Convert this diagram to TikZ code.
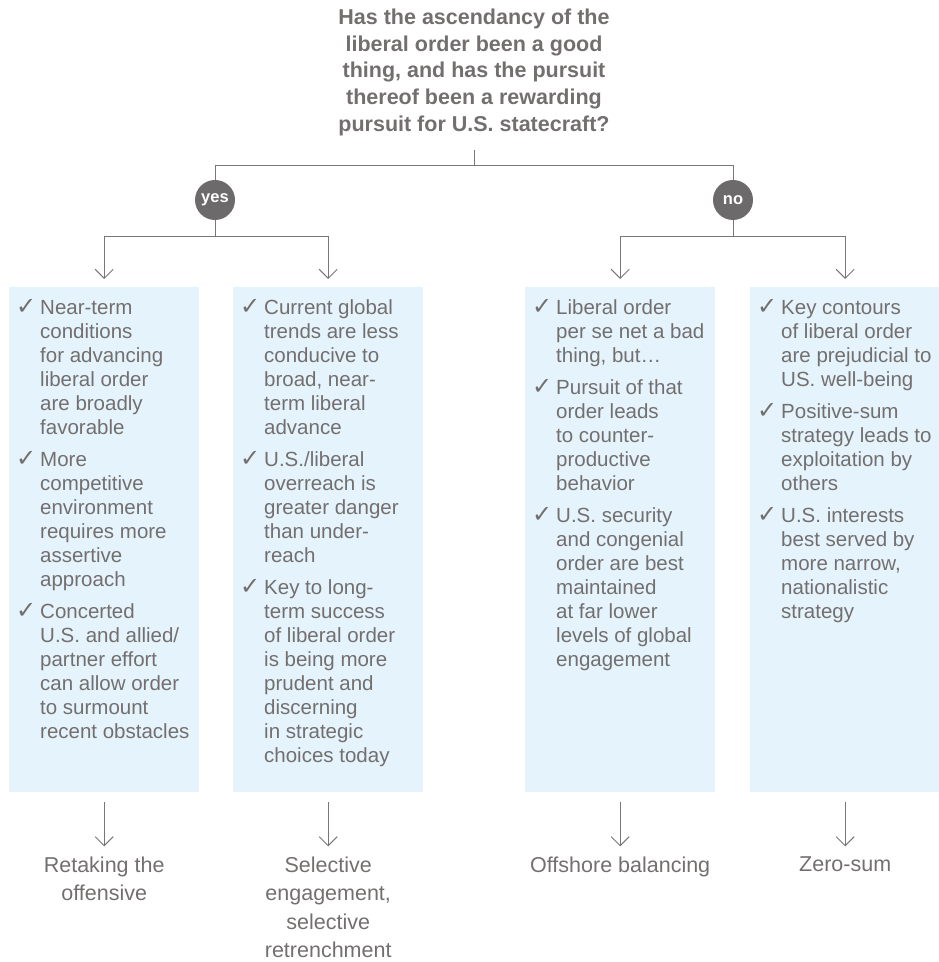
\documentclass[tikz,border=0pt]{standalone}
\usepackage{fontspec}
\setmainfont{Liberation Sans}
\newfontfamily\checkfont{DejaVu Sans}
\usetikzlibrary{arrows.meta, positioning}
\definecolor{txtgray}{RGB}{115,111,111}
\definecolor{linegray}{RGB}{122,118,118}
\definecolor{dotgray}{RGB}{108,106,106}
\definecolor{boxblue}{RGB}{229,244,252}
\tikzstyle{block} = [rectangle, fill=boxblue, minimum width=190pt,
                 minimum height=505pt, anchor=north west, inner sep=0pt]
\tikzset{
	question/.style={anchor=north, inner sep=0pt, align=center, text=txtgray,
		font=\fontsize{21.5}{26.6}\selectfont\bfseries},
	answer/.style={circle, fill=dotgray, minimum size=40pt, inner sep=0pt,
		text=white, font=\fontsize{16.5}{18}\selectfont\bfseries},
	items/.style={anchor=north west, inner sep=0pt, text=txtgray,
		font=\fontsize{20.5}{24}\selectfont},
	outcome/.style={anchor=north, inner sep=0pt, align=center, text=txtgray,
		font=\fontsize{21.5}{28.5}\selectfont},
	link/.style={draw=linegray, line width=1pt},
	pointer/.style={link, -{Straight Barb[length=9pt, width=18pt]}},
}
\newcommand{\chk}{\makebox[24pt][l]{\checkfont\fontsize{24}{24}\selectfont ✓}}

\begin{document}
\begin{tikzpicture}[x=1pt, y=1pt]
\useasboundingbox (0,0) rectangle (939,962);

\node[question] (title) at (474,953) {Has the ascendancy of the\\
	liberal order been a good\\ thing, and has the pursuit\\
	thereof been a rewarding\\ pursuit for U.S. statecraft?};

\node[answer] (yes) at (215,762) {yes};
\node[answer] (no) at (733,762) {no};

\coordinate (fork) at (474,796);
\coordinate (ysplit) at (215,725);
\coordinate (nsplit) at (733,725);

\foreach \n/\x in {1/9, 2/233, 3/525, 4/750}
	\node [block] at (\x,675) (b\n) {};

%fork
\draw[link, shorten <=14pt] (title.south) -- (fork);
\draw[link] (fork) -| (yes.north);
\draw[link] (fork) -| (no.north);
\draw[link] (yes.south) -- (ysplit);
\draw[link] (no.south) -- (nsplit);
\foreach \s/\n in {ysplit/1, ysplit/2, nsplit/3, nsplit/4}
	\draw[pointer, shorten >=8pt] (\s) -| (b\n.north);

%items
\node[items] (t1) at ([shift={(7pt,-11pt)}]b1.north west) {%
\begin{tabular}{@{}l@{}l@{}}
\chk & Near-term\\ & conditions\\ & for advancing\\ & liberal order\\
 & are broadly\\ & favorable\\[8pt]
\chk & More\\ & competitive\\ & environment\\ & requires more\\
 & assertive\\ & approach\\[8pt]
\chk & Concerted\\ & U.S. and allied/\\ & partner effort\\ & can allow order\\
 & to surmount\\ & recent obstacles
\end{tabular}};

\node[items] (t2) at ([shift={(7pt,-11pt)}]b2.north west) {%
\begin{tabular}{@{}l@{}l@{}}
\chk & Current global\\ & trends are less\\ & conducive to\\ & broad, near-\\
 & term liberal\\ & advance\\[8pt]
\chk & U.S./liberal\\ & overreach is\\ & greater danger\\ & than under-\\
 & reach\\[8pt]
\chk & Key to long-\\ & term success\\ & of liberal order\\ & is being more\\
 & prudent and\\ & discerning\\ & in strategic\\ & choices today
\end{tabular}};

\node[items] (t3) at ([shift={(7pt,-11pt)}]b3.north west) {%
\begin{tabular}{@{}l@{}l@{}}
\chk & Liberal order\\ & per se net a bad\\ & thing, but…\\[8pt]
\chk & Pursuit of that\\ & order leads\\ & to counter-\\ & productive\\
 & behavior\\[8pt]
\chk & U.S. security\\ & and congenial\\ & order are best\\ & maintained\\
 & at far lower\\ & levels of global\\ & engagement
\end{tabular}};

\node[items] (t4) at ([shift={(7pt,-11pt)}]b4.north west) {%
\begin{tabular}{@{}l@{}l@{}}
\chk & Key contours\\ & of liberal order\\ & are prejudicial to\\
 & US. well-being\\[8pt]
\chk & Positive-sum\\ & strategy leads to\\ & exploitation by\\ & others\\[8pt]
\chk & U.S. interests\\ & best served by\\ & more narrow,\\ & nationalistic\\
 & strategy
\end{tabular}};

%outcomes
\node[outcome, below=64pt of b1] (o1) {Retaking the\\ offensive};
\node[outcome, below=64pt of b2] (o2) {Selective\\ engagement,\\ selective\\ retrenchment};
\node[outcome, below=64pt of b3] (o3) {Offshore balancing};
\node[outcome, below=64pt of b4] (o4) {Zero-sum};

\foreach \n in {1,...,4}
	\draw[pointer, shorten <=10pt, shorten >=10pt] (b\n.south) -- (o\n.north);

\end{tikzpicture}
\end{document}
